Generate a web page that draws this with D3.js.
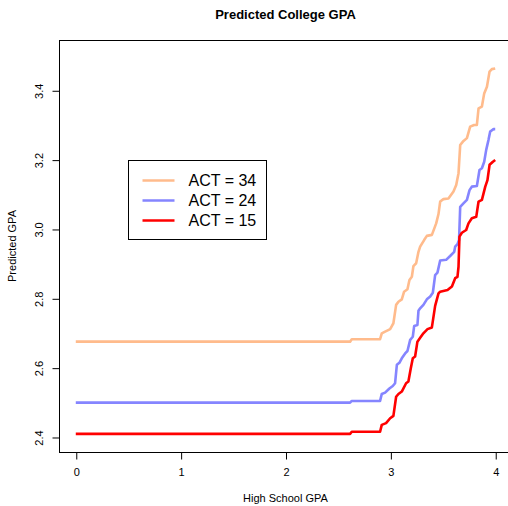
<!DOCTYPE html>
<html>
<head>
<meta charset="utf-8">
<script src="https://cdn.jsdelivr.net/npm/d3@7"></script>
<style>
  body { margin: 0; background: #fff; }
  svg { display: block; font-family: "Liberation Sans", Arial, sans-serif; }
</style>
</head>
<body>
<div id="chart"></div>
<script>
// High school GPA (x) and predicted college GPA (y) for each ACT score
const act34X = [0, 2.616, 2.632, 2.902, 2.918, 2.950, 2.998, 3.014, 3.029, 3.055, 3.077, 3.109, 3.131, 3.163, 3.182, 3.205, 3.220, 3.246, 3.268, 3.284, 3.322, 3.348, 3.396, 3.437, 3.459, 3.475, 3.506, 3.554, 3.602, 3.628, 3.650, 3.666, 3.692, 3.730, 3.761, 3.799, 3.825, 3.841, 3.873, 3.895, 3.921, 3.946, 3.968, 4.0];
const act34Y = [2.675, 2.675, 2.682, 2.682, 2.699, 2.704, 2.711, 2.720, 2.728, 2.781, 2.790, 2.797, 2.819, 2.826, 2.853, 2.862, 2.893, 2.901, 2.934, 2.949, 2.968, 2.980, 2.983, 3.016, 3.043, 3.079, 3.086, 3.088, 3.108, 3.127, 3.161, 3.242, 3.252, 3.262, 3.295, 3.300, 3.300, 3.348, 3.353, 3.391, 3.410, 3.454, 3.461, 3.463];

const act24X = [0, 2.616, 2.632, 2.902, 2.918, 2.950, 2.991, 3.023, 3.045, 3.062, 3.086, 3.109, 3.141, 3.163, 3.189, 3.214, 3.227, 3.258, 3.268, 3.284, 3.315, 3.348, 3.380, 3.405, 3.427, 3.449, 3.475, 3.532, 3.570, 3.609, 3.618, 3.640, 3.655, 3.666, 3.697, 3.730, 3.755, 3.777, 3.825, 3.850, 3.873, 3.895, 3.914, 3.936, 3.952, 3.984, 4.0];
const act24Y = [2.499, 2.499, 2.504, 2.504, 2.524, 2.528, 2.540, 2.547, 2.555, 2.608, 2.614, 2.627, 2.641, 2.648, 2.680, 2.689, 2.720, 2.723, 2.764, 2.771, 2.781, 2.797, 2.805, 2.816, 2.867, 2.874, 2.909, 2.911, 2.922, 2.934, 2.949, 2.956, 2.968, 3.064, 3.074, 3.084, 3.112, 3.122, 3.124, 3.170, 3.175, 3.194, 3.228, 3.257, 3.281, 3.288, 3.288];

const act15X = [0, 2.616, 2.632, 2.902, 2.918, 2.959, 2.998, 3.029, 3.055, 3.077, 3.109, 3.150, 3.172, 3.195, 3.214, 3.236, 3.258, 3.291, 3.315, 3.354, 3.396, 3.427, 3.459, 3.475, 3.545, 3.587, 3.618, 3.640, 3.650, 3.659, 3.682, 3.723, 3.745, 3.777, 3.819, 3.841, 3.873, 3.905, 3.926, 3.946, 3.978, 4.0];
const act15Y = [2.409, 2.409, 2.415, 2.415, 2.435, 2.440, 2.454, 2.461, 2.516, 2.524, 2.531, 2.555, 2.560, 2.598, 2.627, 2.632, 2.675, 2.689, 2.699, 2.711, 2.716, 2.778, 2.814, 2.819, 2.824, 2.834, 2.858, 2.862, 2.891, 2.978, 2.989, 2.997, 3.016, 3.031, 3.035, 3.079, 3.084, 3.122, 3.141, 3.185, 3.194, 3.199];

const seriesNames = ["ACT = 34", "ACT = 24", "ACT = 15"];
const seriesColors = ["#FFBB8C", "#8585FF", "#FF0000"];
const xTicks = [0, 1, 2, 3, 4];
const yTicks = [2.4, 2.6, 2.8, 3.0, 3.2, 3.4];

const series = [
  { name: seriesNames[0], color: seriesColors[0], pts: act34X.map((x, i) => [x, act34Y[i]]) },
  { name: seriesNames[1], color: seriesColors[1], pts: act24X.map((x, i) => [x, act24Y[i]]) },
  { name: seriesNames[2], color: seriesColors[2], pts: act15X.map((x, i) => [x, act15Y[i]]) }
];

const width = 508;
const height = 506;
const plot = { left: 59, top: 40, right: 512, bottom: 452 };

const svg = d3.select("#chart")
  .append("svg")
  .attr("width", width)
  .attr("height", height);

const x = d3.scaleLinear().domain([-0.16, 4.16]).range([plot.left, plot.right]);
const y = d3.scaleLinear().domain([2.3567, 3.545]).range([plot.bottom, plot.top]);

// Lines
const line = d3.line()
  .x(d => x(d[0]))
  .y(d => y(d[1]));

svg.append("g")
  .selectAll("path")
  .data(series)
  .join("path")
  .attr("d", d => line(d.pts))
  .attr("fill", "none")
  .attr("stroke", d => d.color)
  .attr("stroke-width", 2.6)
  .attr("stroke-linejoin", "round");

// Frame
svg.append("rect")
  .attr("x", plot.left + 0.5)
  .attr("y", plot.top + 0.5)
  .attr("width", plot.right - plot.left)
  .attr("height", plot.bottom - plot.top)
  .attr("fill", "none")
  .attr("stroke", "#000")
  .attr("stroke-width", 1);

// X axis
const xAxis = d3.axisBottom(x)
  .tickValues(xTicks)
  .tickSize(7)
  .tickPadding(9)
  .tickFormat(d3.format("d"));

svg.append("g")
  .attr("transform", `translate(0.5, ${plot.bottom + 0.5})`)
  .call(xAxis)
  .call(g => g.select(".domain").remove())
  .call(g => g.selectAll("text").attr("font-size", 11).attr("fill", "#000").attr("font-family", null));

// Y axis
const yAxis = d3.axisLeft(y)
  .tickValues(yTicks)
  .tickSize(7)
  .tickFormat(d3.format(".1f"));

svg.append("g")
  .attr("transform", `translate(${plot.left + 0.5}, 0.5)`)
  .call(yAxis)
  .call(g => g.select(".domain").remove())
  .call(g => g.selectAll("text")
    .attr("font-size", 11)
    .attr("fill", "#000")
    .attr("font-family", null)
    .attr("x", null)
    .attr("dy", null)
    .attr("text-anchor", "middle")
    .attr("transform", "translate(-17, 0) rotate(-90)"));

// Titles
svg.append("text")
  .attr("x", (plot.left + plot.right) / 2)
  .attr("y", 19)
  .attr("text-anchor", "middle")
  .attr("font-size", 13)
  .attr("font-weight", "bold")
  .text("Predicted College GPA");

svg.append("text")
  .attr("x", (plot.left + plot.right) / 2)
  .attr("y", 502)
  .attr("text-anchor", "middle")
  .attr("font-size", 11)
  .text("High School GPA");

svg.append("text")
  .attr("transform", `translate(16, ${(plot.top + plot.bottom) / 2}) rotate(-90)`)
  .attr("text-anchor", "middle")
  .attr("font-size", 11)
  .text("Predicted GPA");

// Legend
const legend = svg.append("g").attr("transform", "translate(128.5, 160.5)");

legend.append("rect")
  .attr("width", 138)
  .attr("height", 79)
  .attr("fill", "#fff")
  .attr("stroke", "#000");

const item = legend.selectAll("g.item")
  .data(series)
  .join("g")
  .attr("class", "item")
  .attr("transform", (d, i) => `translate(0, ${20 + i * 20})`);

item.append("line")
  .attr("x1", 14)
  .attr("x2", 46)
  .attr("stroke", d => d.color)
  .attr("stroke-width", 2.6);

item.append("text")
  .attr("x", 60)
  .attr("dy", "0.35em")
  .attr("font-size", 16)
  .text(d => d.name);
</script>
</body>
</html>
